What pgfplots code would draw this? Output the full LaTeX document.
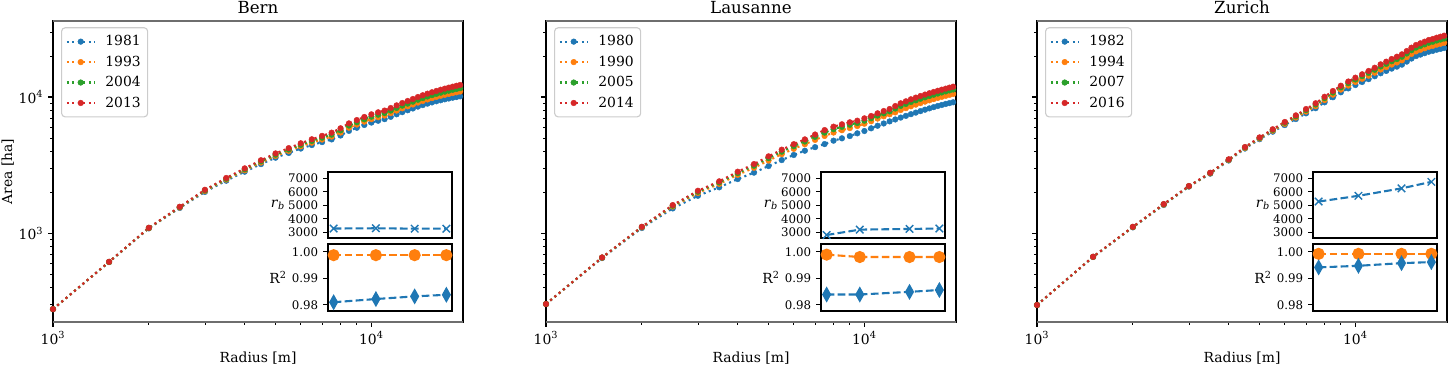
\documentclass[border=0pt]{standalone}
\usepackage{fontspec}
\setmainfont{DejaVu Serif}
\usepackage{pgfplots}
\usepackage{pgfplotstable}
\pgfplotsset{compat=1.18}
\definecolor{C0}{RGB}{31,119,180}
\definecolor{C1}{RGB}{255,127,14}
\definecolor{C2}{RGB}{44,160,44}
\definecolor{C3}{RGB}{214,39,40}
\definecolor{spinegray}{RGB}{110,110,110}

\pgfplotstableread{
r a b c d
1000 276 276 276 276
1500 612 613 614 615
2000 1083 1087 1091 1094
2500 1530 1542 1552 1561
3000 2007 2036 2058 2080
3500 2426 2472 2506 2540
4000 2826 2892 2941 2990
4500 3214 3300 3365 3430
5000 3581 3689 3769 3850
5500 3882 4013 4112 4210
6000 4182 4337 4454 4570
6500 4435 4617 4754 4890
7000 4662 4869 5025 5180
7500 4879 5115 5293 5470
8000 5213 5484 5687 5890
8500 5638 5943 6171 6400
9000 5944 6274 6522 6770
9500 6232 6591 6861 7130
10000 6490 6878 7169 7460
10500 6693 7104 7412 7720
11000 6877 7306 7628 7950
11500 7155 7613 7957 8300
12000 7465 7951 8316 8680
12500 7739 8255 8643 9030
13000 7994 8536 8943 9350
13500 8239 8811 9241 9670
14000 8500 9100 9550 10000
14500 8724 9354 9827 10300
15000 8940 9596 10088 10580
15500 9127 9812 10326 10840
16000 9307 10016 10548 11080
16500 9466 10204 10757 11310
17000 9619 10379 10950 11520
17500 9751 10539 11129 11720
18000 9885 10695 11303 11910
18500 9998 10835 11462 12090
19000 10115 10973 11617 12260
}\bern

\pgfplotstableread{
r a b c d
1000 301 301 301 301
1500 655 659 661 662
2000 1090 1102 1108 1112
2500 1518 1566 1588 1606
3000 1880 1971 2013 2046
3500 2170 2297 2354 2400
4000 2495 2677 2759 2825
4500 2780 3019 3127 3214
5000 3110 3415 3553 3664
5500 3440 3803 3968 4100
6000 3750 4163 4350 4500
6500 4030 4498 4710 4880
7000 4280 4841 5096 5300
7500 4510 5173 5474 5715
8000 4777 5479 5799 6054
8500 4970 5702 6034 6300
9000 5165 5910 6249 6520
9500 5408 6119 6442 6700
10000 5625 6365 6701 6970
10500 5888 6637 6978 7250
11000 6150 6942 7302 7590
11500 6390 7215 7590 7890
12000 6620 7467 7852 8160
12500 6840 7710 8232 8580
13000 7060 8025 8604 8990
13500 7270 8285 8894 9300
14000 7480 8550 9192 9620
14500 7680 8790 9456 9900
15000 7880 9025 9712 10170
15500 8070 9245 9950 10420
16000 8250 9455 10178 10660
16500 8420 9655 10396 10890
17000 8590 9850 10606 11110
17500 8740 10030 10804 11320
18000 8890 10205 10994 11520
18500 9020 10370 11180 11720
19000 9150 10530 11358 11910
}\lausanne

\pgfplotstableread{
r a b c d
1000 296 296 296 296
1500 667 668 669 670
2000 1101 1105 1109 1112
2500 1609 1619 1628 1634
3000 2196 2205 2212 2218
3500 2733 2750 2765 2775
4000 3414 3442 3467 3484
4500 4183 4226 4263 4290
5000 4897 4957 5010 5048
5500 5562 5655 5736 5794
6000 6223 6354 6469 6551
6500 6890 7066 7220 7330
7000 7589 7817 8017 8160
7500 8275 8563 8815 8995
8000 9136 9498 9814 10040
8500 9963 10406 10793 11070
9000 10830 11338 11783 12100
9500 11570 12142 12643 13000
10000 12247 12896 13464 13870
10500 12898 13615 14242 14690
11000 13542 14337 15033 15530
11500 14211 15091 15860 16410
12000 14947 15920 16772 17380
12500 15552 16607 17531 18190
13000 16176 17318 18317 19030
13500 16714 17940 19014 19780
14000 17296 18614 19767 20590
14500 18208 19637 20887 21780
15000 19178 20727 22082 23050
15500 19987 21636 23079 24110
16000 20501 22229 23740 24820
16500 20995 22801 24381 25510
17000 21525 23415 25069 26250
17500 21832 23775 25476 26690
18000 22260 24268 26025 27280
18500 22580 24644 26450 27740
19000 22923 25046 26903 28230
}\zurich

\pgfplotsset{
  every axis/.append style={
    scale only axis, tick align=outside,
    major tick length=3.5pt, minor tick length=2pt,
    axis line style={line width=0.8pt, black},
    every tick/.append style={black, line width=0.8pt},
    every minor tick/.append style={line width=0.6pt},
  },
  legend image code/.code={\draw[mark repeat=2,mark phase=2,#1] plot coordinates {(0pt,0pt) (10pt,0pt) (20pt,0pt)};},
  myser/.style={color=#1, line width=1.5pt, dash pattern=on 1.5pt off 2.475pt, mark=*, mark size=2.05pt, mark options={solid, line width=0.3pt}},
  dashser/.style={color=#1, line width=1.5pt, dash pattern=on 5.55pt off 2.4pt},
}

\newcommand{\spines}{%
  \draw[line width=1.5pt, spinegray] (rel axis cs:0,0) -- (rel axis cs:1,0);
  \draw[line width=1.5pt, spinegray] (rel axis cs:0,1) -- (rel axis cs:1,1);}

\begin{document}
\begin{tikzpicture}
\path[use as bounding box] (0,0) rectangle (1042.56pt,262.8pt);

% ---------------- Bern ----------------
\begin{axis}[at={(38.16pt,30.96pt)}, width=295.2pt, height=216.72pt,
    xmode=log, ymode=log,
    xmin=1000, xmax=19400, ymin=222, ymax=36200,
    xtick={1000,10000}, xticklabels={10\textsuperscript{3},10\textsuperscript{4}},
    minor xtick={2000,3000,4000,5000,6000,7000,8000,9000},
    ytick={1000,10000}, yticklabels={10\textsuperscript{3},10\textsuperscript{4}},
    minor ytick={300,400,500,600,700,800,900,2000,3000,4000,5000,6000,7000,8000,9000,20000,30000},
    xtick pos=bottom, ytick pos=left,
    ticklabel style={font=\fontsize{10}{12}\selectfont},
    xlabel={Radius [m]}, ylabel={Area [ha]}, title={Bern},
    xlabel style={at={(axis description cs:0.5,0)}, anchor=base, yshift=-29.3pt, font=\fontsize{10}{12}\selectfont},
    ylabel style={at={(axis description cs:-0.0999,0.5)}, anchor=base, font=\fontsize{10}{12}\selectfont},
    title style={at={(axis description cs:0.5,1)}, anchor=base, yshift=-0.6pt, font=\fontsize{12}{14}\selectfont},
    clip=false,
    legend cell align=left,
    legend style={at={(axis description cs:0,1)}, anchor=north west, xshift=5.8pt, yshift=-4.5pt,
      draw=black!20, line width=0.8pt, rounded corners=2.5pt, fill=white,
      inner xsep=3pt, inner ysep=3.5pt, row sep=1.8pt, font=\fontsize{10}{12}\selectfont,
      /tikz/every odd column/.append style={column sep=5pt}},
  ]
\addplot[myser=C0] table[x=r,y=a]{\bern};
\addplot[myser=C1] table[x=r,y=b]{\bern};
\addplot[myser=C2] table[x=r,y=c]{\bern};
\addplot[myser=C3] table[x=r,y=d]{\bern};
\legend{1981,1993,2004,2013}
\spines
\end{axis}
\begin{axis}[at={(236.16pt,91.44pt)}, width=89.28pt, height=47.52pt,
    xmin=1979.4, xmax=2014.6, ymin=2580, ymax=7460,
    xtick=\empty, ytick pos=left,
    ytick={3000,4000,5000,6000,7000}, yticklabels={3000,4000,5000,6000,7000},
    yticklabel style={font=\fontsize{8.5}{10}\selectfont},
    axis background/.style={fill=white}, clip=false]
\addplot[dashser=C0, mark=x, mark size=3.8pt, mark options={solid, line width=1pt}] coordinates {(1981,3280) (1993,3300) (2004,3270) (2013,3270)};
\node[font=\fontsize{10}{12}\selectfont] at ([xshift=-36pt]rel axis cs:0,0.5) {\textit{r}\textsubscript{\textit{b}}};
\end{axis}
\begin{axis}[at={(236.16pt,38.88pt)}, width=89.28pt, height=48.24pt,
    xmin=1979.4, xmax=2014.6, ymin=0.9777, ymax=1.0029,
    xtick=\empty, ytick pos=left,
    ytick={0.98,0.99,1.00}, yticklabels={0.98,0.99,1.00},
    yticklabel style={font=\fontsize{8.5}{10}\selectfont},
    axis background/.style={fill=white}, clip=false]
\addplot[dashser=C1, mark=*, mark size=3.6pt, mark options={solid}] coordinates {(1981,0.9987) (1993,0.9987) (2004,0.9987) (2013,0.9987)};
\addplot[dashser=C0, mark=diamond*, mark size=4.3pt, mark options={solid, xscale=0.75}] coordinates {(1981,0.9810) (1993,0.9822) (2004,0.9832) (2013,0.9838)};
\node[font=\fontsize{10}{12}\selectfont] at ([xshift=-36pt]rel axis cs:0,0.5) {R\textsuperscript{2}};
\end{axis}

% ---------------- Lausanne ----------------
\begin{axis}[at={(393.12pt,30.96pt)}, width=295.2pt, height=216.72pt,
    xmode=log, ymode=log,
    xmin=1000, xmax=19400, ymin=222, ymax=36200,
    xtick={1000,10000}, xticklabels={10\textsuperscript{3},10\textsuperscript{4}},
    minor xtick={2000,3000,4000,5000,6000,7000,8000,9000},
    ytick={1000,10000}, yticklabels={},
    minor ytick={300,400,500,600,700,800,900,2000,3000,4000,5000,6000,7000,8000,9000,20000,30000},
    xtick pos=bottom, ytick pos=left,
    ticklabel style={font=\fontsize{10}{12}\selectfont},
    xlabel={Radius [m]}, title={Lausanne},
    xlabel style={at={(axis description cs:0.5,0)}, anchor=base, yshift=-29.3pt, font=\fontsize{10}{12}\selectfont},
    title style={at={(axis description cs:0.5,1)}, anchor=base, yshift=-0.6pt, font=\fontsize{12}{14}\selectfont},
    clip=false,
    legend cell align=left,
    legend style={at={(axis description cs:0,1)}, anchor=north west, xshift=5.8pt, yshift=-4.5pt,
      draw=black!20, line width=0.8pt, rounded corners=2.5pt, fill=white,
      inner xsep=3pt, inner ysep=3.5pt, row sep=1.8pt, font=\fontsize{10}{12}\selectfont,
      /tikz/every odd column/.append style={column sep=5pt}},
  ]
\addplot[myser=C0] table[x=r,y=a]{\lausanne};
\addplot[myser=C1] table[x=r,y=b]{\lausanne};
\addplot[myser=C2] table[x=r,y=c]{\lausanne};
\addplot[myser=C3] table[x=r,y=d]{\lausanne};
\legend{1980,1990,2005,2014}
\spines
\end{axis}
\begin{axis}[at={(591.12pt,91.44pt)}, width=89.28pt, height=47.52pt,
    xmin=1978.3, xmax=2015.7, ymin=2580, ymax=7460,
    xtick=\empty, ytick pos=left,
    ytick={3000,4000,5000,6000,7000}, yticklabels={3000,4000,5000,6000,7000},
    yticklabel style={font=\fontsize{8.5}{10}\selectfont},
    axis background/.style={fill=white}, clip=false]
\addplot[dashser=C0, mark=x, mark size=3.8pt, mark options={solid, line width=1pt}] coordinates {(1980,2800) (1990,3200) (2005,3250) (2014,3280)};
\node[font=\fontsize{10}{12}\selectfont] at ([xshift=-36pt]rel axis cs:0,0.5) {\textit{r}\textsubscript{\textit{b}}};
\end{axis}
\begin{axis}[at={(591.12pt,38.88pt)}, width=89.28pt, height=48.24pt,
    xmin=1978.3, xmax=2015.7, ymin=0.9777, ymax=1.0029,
    xtick=\empty, ytick pos=left,
    ytick={0.98,0.99,1.00}, yticklabels={0.98,0.99,1.00},
    yticklabel style={font=\fontsize{8.5}{10}\selectfont},
    axis background/.style={fill=white}, clip=false]
\addplot[dashser=C1, mark=*, mark size=3.6pt, mark options={solid}] coordinates {(1980,0.9989) (1990,0.9980) (2005,0.9980) (2014,0.9980)};
\addplot[dashser=C0, mark=diamond*, mark size=4.3pt, mark options={solid, xscale=0.75}] coordinates {(1980,0.9839) (1990,0.9839) (2005,0.9849) (2014,0.9856)};
\node[font=\fontsize{10}{12}\selectfont] at ([xshift=-36pt]rel axis cs:0,0.5) {R\textsuperscript{2}};
\end{axis}

% ---------------- Zurich ----------------
\begin{axis}[at={(746.64pt,30.96pt)}, width=295.2pt, height=216.72pt,
    xmode=log, ymode=log,
    xmin=1000, xmax=19400, ymin=222, ymax=36200,
    xtick={1000,10000}, xticklabels={10\textsuperscript{3},10\textsuperscript{4}},
    minor xtick={2000,3000,4000,5000,6000,7000,8000,9000},
    ytick={1000,10000}, yticklabels={},
    minor ytick={300,400,500,600,700,800,900,2000,3000,4000,5000,6000,7000,8000,9000,20000,30000},
    xtick pos=bottom, ytick pos=left,
    ticklabel style={font=\fontsize{10}{12}\selectfont},
    xlabel={Radius [m]}, title={Zurich},
    xlabel style={at={(axis description cs:0.5,0)}, anchor=base, yshift=-29.3pt, font=\fontsize{10}{12}\selectfont},
    title style={at={(axis description cs:0.5,1)}, anchor=base, yshift=-0.6pt, font=\fontsize{12}{14}\selectfont},
    clip=false,
    legend cell align=left,
    legend style={at={(axis description cs:0,1)}, anchor=north west, xshift=5.8pt, yshift=-4.5pt,
      draw=black!20, line width=0.8pt, rounded corners=2.5pt, fill=white,
      inner xsep=3pt, inner ysep=3.5pt, row sep=1.8pt, font=\fontsize{10}{12}\selectfont,
      /tikz/every odd column/.append style={column sep=5pt}},
  ]
\addplot[myser=C0] table[x=r,y=a]{\zurich};
\addplot[myser=C1] table[x=r,y=b]{\zurich};
\addplot[myser=C2] table[x=r,y=c]{\zurich};
\addplot[myser=C3] table[x=r,y=d]{\zurich};
\legend{1982,1994,2007,2016}
\spines
\end{axis}
\begin{axis}[at={(945.36pt,91.44pt)}, width=89.28pt, height=47.52pt,
    xmin=1980.3, xmax=2017.7, ymin=2580, ymax=7460,
    xtick=\empty, ytick pos=left,
    ytick={3000,4000,5000,6000,7000}, yticklabels={3000,4000,5000,6000,7000},
    yticklabel style={font=\fontsize{8.5}{10}\selectfont},
    axis background/.style={fill=white}, clip=false]
\addplot[dashser=C0, mark=x, mark size=3.8pt, mark options={solid, line width=1pt}] coordinates {(1982,5275) (1994,5700) (2007,6250) (2016,6730)};
\node[font=\fontsize{10}{12}\selectfont] at ([xshift=-36pt]rel axis cs:0,0.5) {\textit{r}\textsubscript{\textit{b}}};
\end{axis}
\begin{axis}[at={(945.36pt,38.88pt)}, width=89.28pt, height=48.24pt,
    xmin=1980.3, xmax=2017.7, ymin=0.9777, ymax=1.0029,
    xtick=\empty, ytick pos=left,
    ytick={0.98,0.99,1.00}, yticklabels={0.98,0.99,1.00},
    yticklabel style={font=\fontsize{8.5}{10}\selectfont},
    axis background/.style={fill=white}, clip=false]
\addplot[dashser=C1, mark=*, mark size=3.6pt, mark options={solid}] coordinates {(1982,0.9992) (1994,0.9992) (2007,0.9992) (2016,0.9992)};
\addplot[dashser=C0, mark=diamond*, mark size=4.3pt, mark options={solid, xscale=0.75}] coordinates {(1982,0.9941) (1994,0.9947) (2007,0.9957) (2016,0.9961)};
\node[font=\fontsize{10}{12}\selectfont] at ([xshift=-36pt]rel axis cs:0,0.5) {R\textsuperscript{2}};
\end{axis}
\end{tikzpicture}
\end{document}
